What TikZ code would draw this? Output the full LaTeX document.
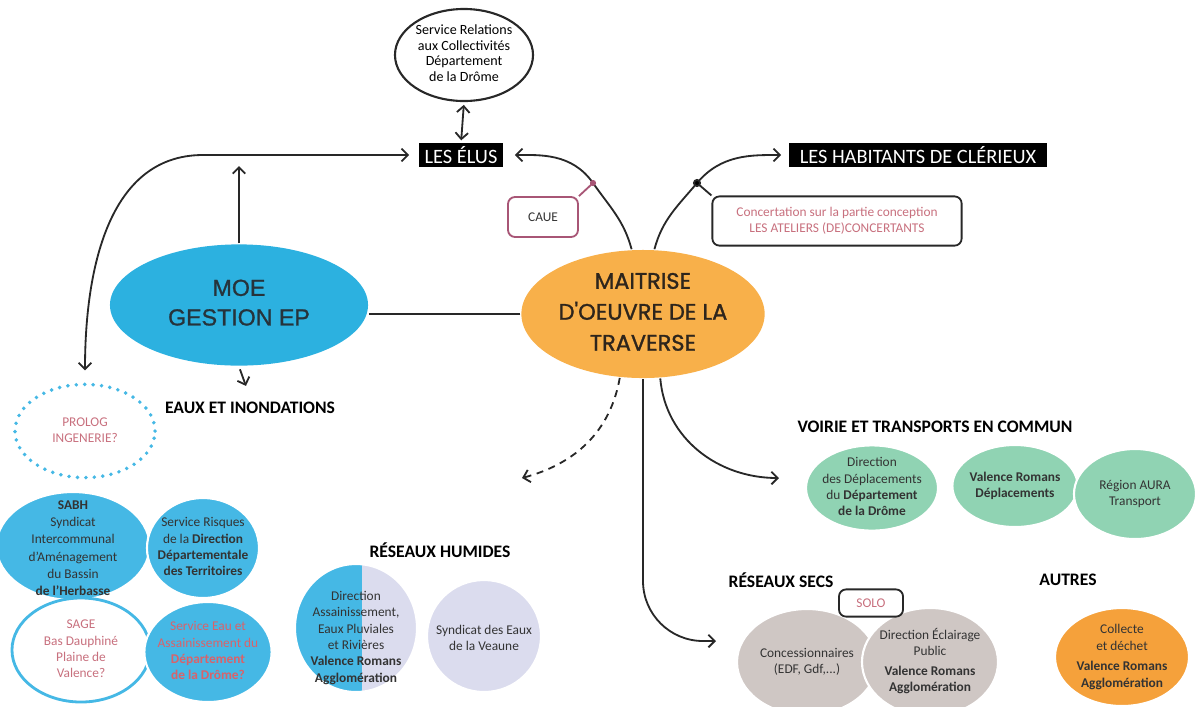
\documentclass[tikz,border=0pt]{standalone}
\usepackage{fontspec}
\setmainfont{Carlito}
\newfontfamily\bigfont[FakeBold=1.3]{Poppins}
\newfontfamily\moefont[FakeBold=1]{Liberation Sans}
\usetikzlibrary{arrows.meta,positioning,shapes.geometric}

\definecolor{moeblue}{HTML}{2CB1E0}
\definecolor{eaublue}{HTML}{45B8E5}
\definecolor{maitorange}{HTML}{F8B04A}
\definecolor{autorange}{HTML}{F5A13B}
\definecolor{voirgreen}{HTML}{90D3B3}
\definecolor{secgrey}{HTML}{CFC7C4}
\definecolor{humlav}{HTML}{DBDCEE}
\definecolor{pinktext}{HTML}{C8707E}
\definecolor{redtext}{HTML}{D9626A}
\definecolor{cauepink}{HTML}{A85676}
\definecolor{inkgrey}{HTML}{333333}
\definecolor{moetext}{HTML}{26333B}
\definecolor{maittext}{HTML}{2E251C}
\definecolor{wire}{HTML}{282828}

% text that does not widen its bubble
\newcommand{\fitin}[2][0pt]{\smash{\makebox[0pt]{\raisebox{\dimexpr-.25em-#1\relax}{\begin{tabular}{@{}c@{}}#2\end{tabular}}}}}

\begin{document}
\begin{tikzpicture}
	[x=0.025cm,y=-0.025cm,
	 >={Straight Barb[length=4.5pt,width=9pt]},
	 wire/.style={draw=wire,line width=1.3pt},
	 blackbox/.style={fill=black,text=white,inner sep=0pt,minimum height=0.58cm,font=\fontsize{14.5}{16}\selectfont},
	 heading/.style={font=\fontsize{12.5}{15}\selectfont\bfseries},
	 bubble/.style={ellipse,inner sep=0pt,text=inkgrey,draw=white,line width=1.5pt,font=\fontsize{9.5}{11.6}\selectfont},
	 notebox/.style={rectangle,rounded corners=5pt,line width=1.3pt,fill=white,font=\fontsize{9.5}{11}\selectfont}]
\useasboundingbox (0,0) rectangle (1200,706);

% top: elus, habitants
\node[ellipse,draw=wire,line width=1.5pt,inner sep=0pt,minimum width=3.45cm,minimum height=2.3cm,font=\fontsize{10}{11}\selectfont] (serv) at (464,55)
	{\fitin{Service Relations\\aux Collectivités\\Département\\de la Drôme}};
\node[blackbox,minimum width=2.08cm] (elus) at (461,155) {LES ÉLUS};
\node[blackbox,minimum width=6.43cm] (hab) at (918,155) {LES HABITANTS DE CLÉRIEUX};

% the two main bubbles
\node[bubble,fill=moeblue,draw=none,minimum width=6.45cm,minimum height=3.03cm,text=moetext,font=\moefont\fontsize{16.5}{21}\selectfont] (moe) at (239,305) {\fitin{MOE\\GESTION EP}};
\node[bubble,fill=maitorange,draw=none,minimum width=6.08cm,minimum height=3.2cm,text=maittext,font=\bigfont\fontsize{16}{22}\selectfont] (mait) at (643,314) {\fitin{MAITRISE\\D'OEUVRE DE LA\\TRAVERSE}};

\node[notebox,draw=cauepink,minimum width=1.75cm,minimum height=1cm,text=inkgrey] (caue) at (543,217) {CAUE};
\node[notebox,draw=wire,minimum width=6.23cm,minimum height=1.23cm,text=pinktext,align=center] (conc) at (837,221) {Concertation sur la partie conception\\LES ATELIERS (DE)CONCERTANTS};

% headings
\node[heading] (eaux) at (250,408) {EAUX ET INONDATIONS};
\node[heading] (humtitle) at (440,550) {RÉSEAUX HUMIDES};
\node[heading] (voirie) at (935,427) {VOIRIE ET TRANSPORTS EN COMMUN};
\node[heading] (secs) at (781,580) {RÉSEAUX SECS};
\node[heading] (autres) at (1068,580) {AUTRES};

% eaux et inondations
\node[bubble,draw=eaublue,line width=2.8pt,dash pattern=on 0pt off 6pt,line cap=round,minimum width=3.5cm,minimum height=2.33cm,text=pinktext] (prolog) at (85,431) {\fitin{PROLOG\\INGENERIE?}};
\node[bubble,fill=eaublue,minimum width=3.83cm,minimum height=2.7cm,font=\fontsize{9.5}{12.2}\selectfont] (sabh) at (73,546) {\fitin[2pt]{\textbf{SABH}\\Syndicat\\Intercommunal\\d'Aménagement\\du Bassin\\\textbf{de l'Herbasse}}};
\node[bubble,fill=eaublue,minimum width=2.8cm,minimum height=2.5cm] (risk) at (203,548) {\fitin{Service Risques\\de la \textbf{Direction}\\\textbf{Départementale}\\\textbf{des Territoires}}};
\node[bubble,fill=white,draw=eaublue,line width=2pt,minimum width=3.45cm,minimum height=2.6cm,text=pinktext] (sage) at (81,650) {\fitin{SAGE\\Bas Dauphiné\\Plaine de\\Valence?}};
\node[bubble,fill=eaublue,minimum width=3.18cm,minimum height=2.5cm,text=redtext] (eau) at (208,652) {\fitin{Service Eau et\\Assainissement du\\\textbf{Département}\\\textbf{de la Drôme?}}};

% reseaux humides
\node[bubble,fill=humlav,minimum width=3.05cm,minimum height=3.2cm,
	path picture={\fill[eaublue] (path picture bounding box.south west) rectangle ([xshift=0.15cm]path picture bounding box.north);}] (hum1) at (356,628)
	{\fitin[7pt]{Direction\\Assainissement,\\Eaux Pluviales\\et Rivières\\\textbf{Valence Romans}\\\textbf{Agglomération}}};
\node[bubble,fill=humlav,minimum width=2.85cm,minimum height=2.8cm] (hum2) at (484,636) {\fitin[2pt]{Syndicat des Eaux\\de la Veaune}};

% voirie
\node[bubble,fill=voirgreen,minimum width=3.3cm,minimum height=2.13cm] (dep) at (872,488) {\fitin{Direction\\des Déplacements\\du \textbf{Département}\\\textbf{de la Drôme}}};
\node[bubble,fill=voirgreen,minimum width=3.13cm,minimum height=2.05cm] (vrd) at (1015,486) {\fitin{\textbf{Valence Romans}\\\textbf{Déplacements}}};
\node[bubble,fill=voirgreen,minimum width=3.05cm,minimum height=2.25cm] (aura) at (1135,494) {\fitin{Région AURA\\Transport}};

% reseaux secs
\node[bubble,fill=secgrey,minimum width=3.5cm,minimum height=2.65cm] (conces) at (807,662) {\fitin{Concessionnaires\\(EDF, Gdf,...)}};
\node[bubble,fill=secgrey,minimum width=3.4cm,minimum height=2.7cm] (eclair) at (930,662) {\fitin{Direction Éclairage\\Public\\[2pt]\textbf{Valence Romans}\\\textbf{Agglomération}}};
\node[notebox,draw=wire,minimum width=1.6cm,minimum height=0.68cm,text=pinktext] (solo) at (871,603) {SOLO};

% autres
\node[bubble,fill=autorange,minimum width=3.35cm,minimum height=2.45cm] (collect) at (1122,657) {\fitin{Collecte\\et déchet\\[3pt]\textbf{Valence Romans}\\\textbf{Agglomération}}};

% connectors
\coordinate (elusbend) at (203,155);
\coordinate (moeup) at (239,166);
\coordinate (cauedot) at (593,183);
\coordinate (concdot) at (697,183);
\coordinate (dashend) at (522,478);
\coordinate (secsend) at (716,641);
\coordinate (voirend) at (779,478);
\draw[wire,<->,shorten <=2pt,shorten >=2pt] (serv.south) -- (elus.north);
\draw[wire,<->,shorten <=0.3cm,shorten >=0.25cm] (prolog.north) to[out=90,in=180] (elusbend) -- (elus.west);
\draw[wire,->] (moe.north) -- (moeup);
\draw[wire,->,shorten <=2pt,shorten >=0.3cm] (moe.south) -- (eaux.north);
\draw[wire] (mait.west) -- (mait.west -| moe.east);
\draw[wire,->,shorten >=0.3cm] (mait.100) to[out=105,in=-55] (cauedot) to[out=125,in=0] (elus.east);
\draw[wire,->,shorten >=0.2cm] (mait.80) to[out=75,in=-130] (concdot) to[out=50,in=180] (hab.west);
\draw[cauepink,line width=1.3pt] (cauedot) -- (caue.north east);
\fill[cauepink] (cauedot) circle (2.2pt);
\draw[wire] (concdot) -- (conc.north west);
\fill[wire] (concdot) circle (2.2pt);
\draw[wire,dash pattern=on 5pt off 4pt,->] (mait.250) to[out=-100,in=15] (dashend);
\draw[wire,->,rounded corners=1.5cm] (mait.south) |- (secsend);
\draw[wire,->] (mait.285) to[out=-85,in=180] (voirend);
\end{tikzpicture}
\end{document}
